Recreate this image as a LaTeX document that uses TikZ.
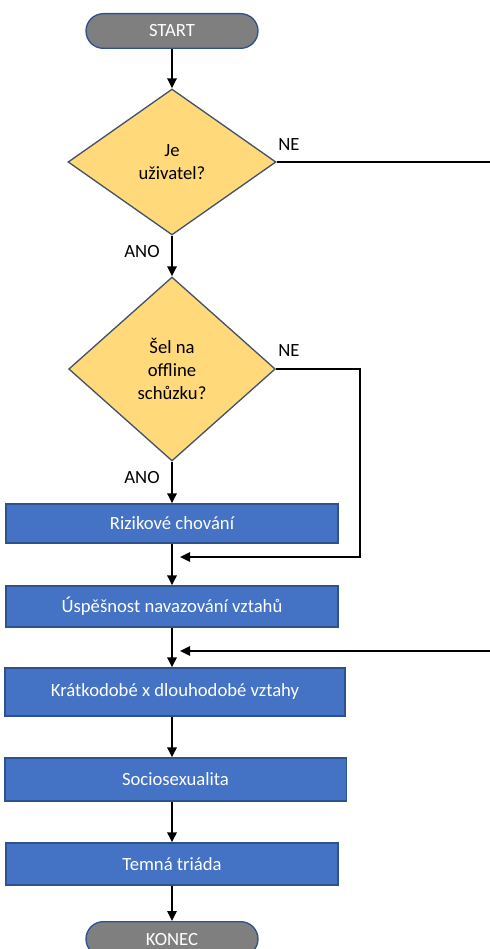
\documentclass[tikz,border=0pt]{standalone}
\usepackage{fontspec}
\setmainfont{Carlito}
\usetikzlibrary{shapes.geometric,arrows.meta}
\definecolor{termgray}{RGB}{127,127,127}
\definecolor{bordblue}{RGB}{47,82,143}
\definecolor{boxblue}{RGB}{68,114,196}
\definecolor{askfill}{RGB}{255,217,122}
\definecolor{askline}{RGB}{68,84,106}

\begin{document}
\begin{tikzpicture}[x=0.75pt,y=-0.75pt]
\tikzstyle{every node}+=[inner sep=0pt, font=\fontsize{14}{17}\selectfont]
\tikzstyle{term}=[draw=bordblue, fill=termgray, line width=1pt, rounded corners=13pt, text=white, minimum width=129pt, minimum height=26pt]
\tikzstyle{ask}=[diamond, draw=askline, fill=askfill, line width=1pt, align=center]
\tikzstyle{stepbox}=[draw=bordblue, fill=boxblue, line width=1pt, text=white, minimum width=249pt]
\tikzstyle{arr}=[line width=1.5pt, -{Triangle[length=7.5pt,width=7pt]}]
\useasboundingbox (0,0) rectangle (489,949);
% start and questions
\node [term] (start) at (172,31) {START};
\node [ask, minimum width=156pt, minimum height=109.5pt] (q1) at (172,162) {Je\\uživatel?};
\node [ask, minimum width=155pt, minimum height=138pt] (q2) at (172,369) {Šel na\\offline\\schůzku?};
% steps
\node [stepbox, minimum height=29.25pt] (b1) at (172,523.5) {Rizikové chování};
\node [stepbox, minimum height=30.75pt] (b2) at (172,606.5) {Úspěšnost navazování vztahů};
\node [stepbox, minimum width=255pt, minimum height=36pt] (b3) at (175,692) {Krátkodobé x dlouhodobé vztahy};
\node [stepbox, minimum width=256pt, minimum height=32.25pt] (b4) at (175.5,779.5) {Sociosexualita};
\node [stepbox, minimum height=31.5pt] (b5) at (172,864) {Temná triáda};
\node [term] (konec) at (172,939) {KONEC};
% labels
\node (ne1) at (289,145) {NE};
\node (ano1) at (142,252) {ANO};
\node (ne2) at (289,351) {NE};
\node (ano2) at (142,478) {ANO};
% side paths
\coordinate (r1) at (360,369);
\coordinate (j1) at (180,557);
\coordinate (r2) at (494,162);
\coordinate (j2) at (180,651);
\draw [arr] (start) -- (q1);
\draw [arr] (q1) -- (q2);
\draw [arr] (q2) -- (q2.south |- b1.north);
\draw [arr] (b1.south -| start) -- (b2.north -| start);
\draw [arr] (b2.south -| start) -- (b3.north -| start);
\draw [arr] (b3.south -| start) -- (b4.north -| start);
\draw [arr] (b4.south -| start) -- (b5.north -| start);
\draw [arr] (b5.south -| start) -- (konec);
\draw [arr] (q2.east) -- (r1) |- (j1);
\draw [arr] (q1.east) -- (r2) |- (j2);
\end{tikzpicture}
\end{document}
